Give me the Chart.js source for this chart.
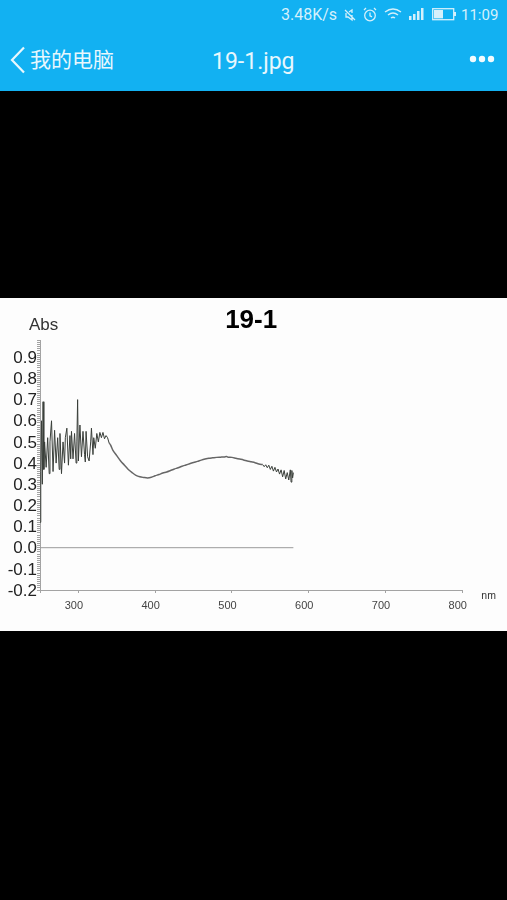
<!DOCTYPE html>
<html lang="zh">
<head>
    <meta charset="UTF-8">
    <script src="https://cdn.jsdelivr.net/npm/chart.js@4/dist/chart.umd.min.js"></script>
    <title>19-1.jpg</title>
    <style>
        html, body { margin: 0; height: 900px; background: #000; overflow: hidden; }
        #bar { position: absolute; left: 0; top: 0; width: 507px; height: 91px; background: #12b1f2; color: #fff; font-family: Roboto, sans-serif; }
        #bar span, #bar svg { position: absolute; }
        #speed { left: 281px; top: 6px; font-size: 16px; line-height: 18px; color: #d5f0fb; }
        #clock { left: 461px; top: 5px; font-size: 15px; line-height: 20px; color: #d5f0fb; }
        #back { left: 30px; top: 44px; font: 21px/29px "Noto Sans CJK SC"; color: #e8f7fd; }
        #name { left: 212px; top: 47px; font-size: 23px; line-height: 30px; color: #e8f7fd; }
        #chart { position: absolute; left: 0; top: 298px; background: #fdfdfd; }
    </style>
</head>
<body>
    <div id="bar">
        <span id="speed">3.48K/s</span>
        <svg style="left:343px;top:8px" width="14" height="14" fill="none" stroke="#d5f0fb" stroke-width="1.3"><path d="M2 2l10 10M3 5v4h2l4 3V7M6 4l3-2v3"/></svg>
        <svg style="left:362px;top:7px" width="16" height="16" fill="none" stroke="#d5f0fb" stroke-width="1.3"><circle cx="8" cy="8.5" r="5.3"/><path d="M8 5.5v3.3l2 1M2 3l2-2M14 3l-2-2"/></svg>
        <svg style="left:384px;top:7px" width="18" height="15" fill="none" stroke="#d5f0fb" stroke-width="1.4"><path d="M1 5q8-6 16 0M4 8q5-4 10 0M7 11q2-1.500 4 0"/></svg>
        <svg style="left:408px;top:8px" width="18" height="13" fill="#d5f0fb"><rect x="1" y="8" width="2.500" height="4"/><rect x="5" y="6" width="2.500" height="6"/><rect x="9" y="3" width="2.500" height="9"/><rect x="13" y="0" width="2.500" height="12"/></svg>
        <svg style="left:432px;top:8px" width="25" height="13"><rect x="0.700" y="0.700" width="21" height="11" fill="none" stroke="#d5f0fb" stroke-width="1.300"/><rect x="2" y="2" width="9" height="8.400" fill="#d5f0fb"/><rect x="22" y="4" width="2" height="4" fill="#d5f0fb"/></svg>
        <span id="clock">11:09</span>
        <svg style="left:9px;top:46px" width="20" height="28" fill="none" stroke="#e8f7fd" stroke-width="2.200"><path d="M15 1.500L3 14l12 12.500"/></svg>
        <span id="back">我的电脑</span>
        <span id="name">19-1.jpg</span>
        <svg style="left:468px;top:53px" width="28" height="12" fill="#f2fbfe"><circle cx="5" cy="6" r="3.200"/><circle cx="14" cy="6" r="3.200"/><circle cx="23" cy="6" r="3.200"/></svg>
    </div>
    <canvas id="chart" width="507" height="333"></canvas>
    <script>
        // the trace has a noisy start, a clean middle and a noisy tail, drawn in different greys
        const noisyNm = [
            250,251,252,253,254,255,256,258,260,262,263,265,267,269,271,273,275,276,278,280,
            282,283,285,287,289,290,291,293,295,297,298,299,300,302,304,306,308,309,310,312,
            314,316,317,319,320,322,324,326,328,330,332,334,336,338,340
        ];
        const noisyAbs = [
            .12,.36,.60,.30,.69,.37,.50,.38,.52,.35,.50,.60,.36,.555,.40,.52,.37,.54,.35,.50,
            .40,.52,.565,.39,.53,.42,.55,.42,.54,.40,.50,.70,.41,.58,.43,.55,.44,.405,.55,.43,
            .41,.50,.565,.44,.52,.47,.54,.50,.545,.52,.545,.515,.53,.52,.495
        ];
        const middleNm = [
            340,342,345,350,355,360,365,370,375,380,385,390,395,400,405,410,415,420,425,430,
            435,440,445,450,455,460,465,470,475,480,485,490,493,495,500,505,510,515,520,525,
            530,535,540
        ];
        const middleAbs = [
            .495,.485,.46,.435,.41,.39,.37,.355,.342,.335,.332,.33,.333,.34,.346,.353,.358,.365,.372,.378,
            .385,.391,.397,.403,.408,.414,.419,.423,.425,.427,.428,.429,.431,.428,.427,.423,.419,.415,.41,.406,
            .402,.396,.393
        ];
        const tailNm = [
            540,542,544,546,548,550,552,554,556,558,560,562,564,566,568,570,572,574,576,577,
            578,579,580
        ];
        const tailAbs = [
            .393,.383,.392,.378,.39,.37,.385,.362,.38,.358,.372,.348,.368,.335,.365,.325,.355,.32,.368,.31,
            .365,.33,.355
        ];
        const baselineNm = [250, 580];
        const baselineAbs = [0, 0];

        const ink = '#3a3f3a';
        const axisGrey = '#a3a3a3';

        const pairs = (xs, ys) => xs.map((x, i) => ({ x: x, y: ys[i] }));

        // Abs and nm sit beside the axes, not along them, so they are placed from the scales here
        const axisNames = {
            id: 'axisNames',
            afterDraw(chart) {
                const c = chart.ctx;
                c.save();
                c.fillStyle = '#333';
                c.textBaseline = 'middle';
                c.font = '17px "Liberation Sans"';
                c.fillText('Abs', chart.scales.x.left - 11, chart.scales.y.top - 15);
                c.font = '10.5px "Liberation Sans"';
                c.fillText('nm', chart.scales.x.right + 19, chart.scales.y.bottom + 6);
                c.restore();
            }
        };

        new Chart(document.getElementById('chart'), {
            type: 'line',
            data: {
                datasets: [
                    { label: 'Abs', data: pairs(noisyNm, noisyAbs), borderColor: ink, borderWidth: 1, pointRadius: 0, tension: 0 },
                    { label: 'Abs middle', data: pairs(middleNm, middleAbs), borderColor: '#666', borderWidth: 1.5, pointRadius: 0, tension: 0.3 },
                    { label: 'Abs tail', data: pairs(tailNm, tailAbs), borderColor: ink, borderWidth: 1, pointRadius: 0, tension: 0 },
                    { label: 'Baseline', data: pairs(baselineNm, baselineAbs), borderColor: '#9a9a9a', borderWidth: 1, pointRadius: 0 }
                ]
            },
            options: {
                responsive: false,
                animation: false,
                layout: { padding: { left: 0, right: 44.7, top: 0, bottom: 0 } },
                plugins: {
                    legend: { display: false },
                    tooltip: { enabled: false },
                    title: {
                        display: true,
                        fullSize: false,
                        text: '19-1',
                        color: '#000',
                        font: { family: '"Liberation Sans"', size: 26, weight: 'bold', lineHeight: 1.2 },
                        padding: { top: 7.5, bottom: 3.7 }
                    }
                },
                scales: {
                    x: {
                        type: 'linear',
                        min: 250,
                        max: 800,
                        afterFit(scale) { scale.height = 41; },
                        border: { color: axisGrey },
                        grid: { drawOnChartArea: false, color: axisGrey, tickLength: 3 },
                        ticks: {
                            stepSize: 100,
                            maxRotation: 0,
                            padding: 6,
                            labelOffset: -4.5,
                            color: '#444',
                            font: { family: '"Liberation Sans"', size: 11 },
                            callback: v => (v % 100 === 0 ? String(v) : '')
                        }
                    },
                    y: {
                        min: -0.2,
                        max: 0.98,
                        afterFit(scale) { scale.width = 40; },
                        border: { color: axisGrey },
                        grid: { drawOnChartArea: false, color: axisGrey, tickLength: 3 },
                        ticks: {
                            stepSize: 0.01,
                            autoSkip: false,
                            padding: 0,
                            labelOffset: 1,
                            color: '#222',
                            font: { family: '"Liberation Sans"', size: 17 },
                            callback: v => (Math.round(v * 100) % 10 === 0 ? v.toFixed(1) : '')
                        }
                    }
                }
            },
            plugins: [axisNames]
        });
    </script>
</body>
</html>
